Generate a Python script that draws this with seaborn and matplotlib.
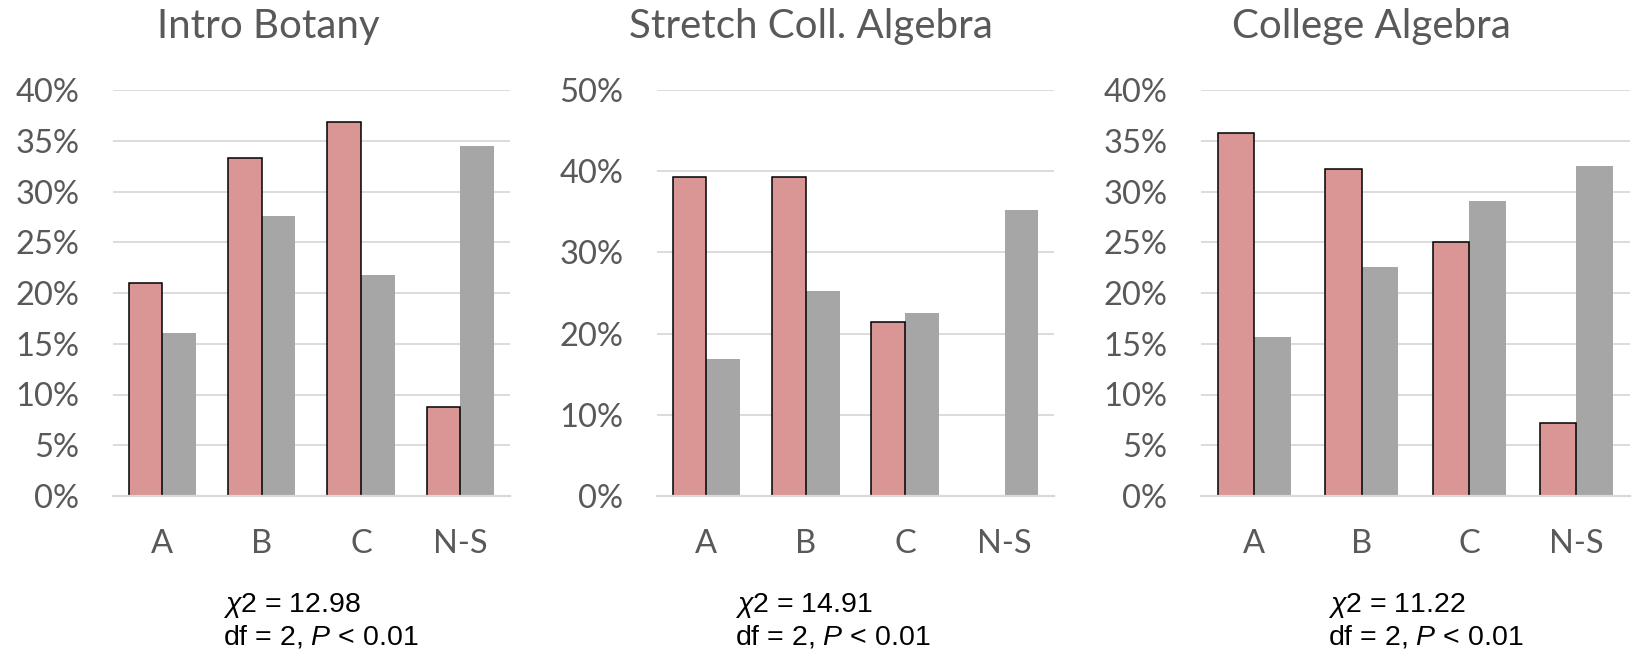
import matplotlib
matplotlib.use('Agg')
import matplotlib.pyplot as plt
import seaborn as sns
import pandas as pd
from matplotlib.ticker import MultipleLocator, FuncFormatter

# ---------------- data ----------------
grades = ['A', 'B', 'C', 'N-S']
series_names = ['Series 1', 'Series 2']
titles = ['Intro Botany', 'Stretch Coll. Algebra', 'College Algebra']

botany_s1 = [21.0, 33.3, 36.8, 8.8]
botany_s2 = [16.1, 27.6, 21.8, 34.5]
stretch_s1 = [39.3, 39.3, 21.4, 0.0]
stretch_s2 = [16.9, 25.3, 22.5, 35.2]
college_s1 = [35.8, 32.2, 25.0, 7.2]
college_s2 = [15.7, 22.6, 29.1, 32.5]

chi2_values = ['12.98', '14.91', '11.22']
df_values = ['2', '2', '2']
p_values = ['0.01', '0.01', '0.01']
y_max = [40, 50, 40]
y_step = [5, 10, 5]

# ---------------- style ----------------
sns.set_style('white')
plt.rcParams['font.family'] = ['Lato', 'DejaVu Sans']
plt.rcParams['mathtext.fontset'] = 'custom'
plt.rcParams['mathtext.rm'] = 'Liberation Sans'
plt.rcParams['mathtext.it'] = 'Liberation Sans:italic'

RED = '#D99694'
GRAY = '#A6A6A6'
TXT = '#595959'
GRID = '#D9D9D9'

W, H = 1632, 650
fig = plt.figure(figsize=(W / 100, H / 100), dpi=100)

boxes = [(112.7, 510.0), (656.7, 1054.3), (1200.7, 1630.0)]
ax_top, ax_bottom = 90.0, 496.0
title_cx = [268, 811, 1371]
note_x = [223, 735, 1328]

series = [(botany_s1, botany_s2), (stretch_s1, stretch_s2), (college_s1, college_s2)]

for i in range(3):
    l, r = boxes[i]
    ax = fig.add_axes([l / W, 1 - ax_bottom / H, (r - l) / W, (ax_bottom - ax_top) / H])
    s1, s2 = series[i]
    data = pd.DataFrame({
        'grade': grades * 2,
        'group': [series_names[0]] * 4 + [series_names[1]] * 4,
        'value': list(s1) + list(s2),
    })
    sns.barplot(data=data, x='grade', y='value', hue='group', order=grades,
                hue_order=series_names, palette=[RED, GRAY], saturation=1,
                width=0.68, gap=0, errorbar=None, legend=False, ax=ax,
                zorder=3, linewidth=0)
    n = len(grades)
    for k, p in enumerate(ax.patches[:2 * n]):
        if k < n and p.get_height() > 0:
            p.set_edgecolor('black')
            p.set_linewidth(1.1)
            p.set_zorder(4)
        else:
            p.set_linewidth(0)

    ax.set_ylim(0, y_max[i])
    ax.set_xlim(-0.5, 3.5)
    ax.yaxis.set_major_locator(MultipleLocator(y_step[i]))
    ax.yaxis.set_major_formatter(FuncFormatter(lambda v, pos: f'{v:.0f}%'))
    ax.grid(axis='y', color=GRID, linewidth=1.3, zorder=0)
    ax.set_axisbelow(True)
    for side in ['top', 'right', 'left']:
        ax.spines[side].set_visible(False)
    ax.spines['bottom'].set_color(GRID)
    ax.spines['bottom'].set_linewidth(1.6)
    ax.spines['bottom'].set_zorder(6)
    ax.set_xlabel('')
    ax.set_ylabel('')
    ax.tick_params(axis='both', length=0, labelsize=23.5, labelcolor=TXT)
    ax.tick_params(axis='y', pad=24)
    ax.tick_params(axis='x', pad=24)

    fig.text(title_cx[i] / W, 1 - 38 / H, titles[i], ha='center', va='baseline',
             fontsize=29, color=TXT)
    fig.text(note_x[i] / W, 1 - 612 / H, r'$\chi$' + f'2 = {chi2_values[i]}', ha='left',
             va='baseline', fontsize=20.5, family='Liberation Sans', color='black')
    fig.text(note_x[i] / W, 1 - 644 / H, f'df = {df_values[i]}, $P$ < {p_values[i]}',
             ha='left', va='baseline', fontsize=20.5, family='Liberation Sans',
             color='black')

fig.savefig('out.png', dpi=100, facecolor='white')
